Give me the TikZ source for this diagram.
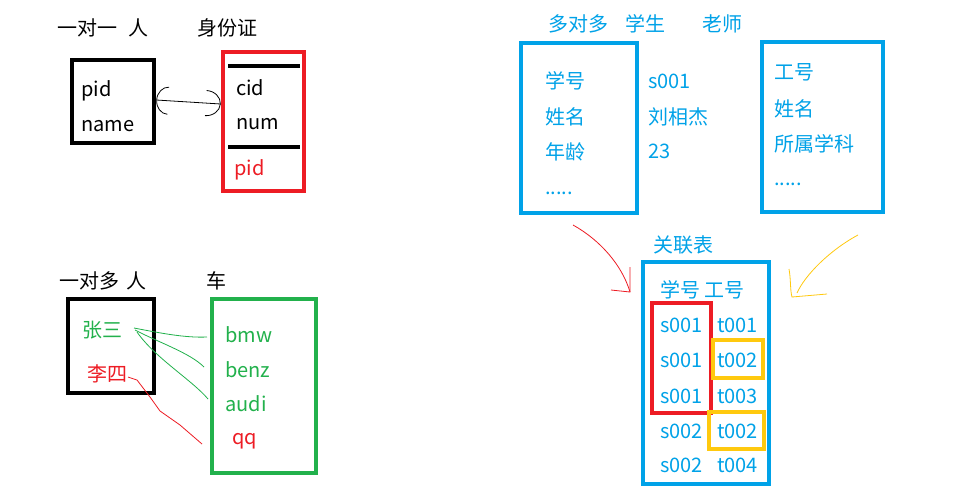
\documentclass[tikz,border=0pt]{standalone}
\usepackage{fontspec}
\setmainfont{Noto Sans CJK SC}
\usetikzlibrary{arrows.meta}
\definecolor{pred}{HTML}{ED1C24}
\definecolor{pgreen}{HTML}{22B14C}
\definecolor{pblue}{HTML}{00A2E8}
\definecolor{pyellow}{HTML}{FFC90E}
\begin{document}
\begin{tikzpicture}[x=1pt,y=-1pt,
  txt/.style={anchor=base west, inner sep=0pt, font=\fontsize{20}{24}\selectfont},
  box/.style={draw, line width=4.5pt, inner sep=0pt},
  hand/.style={line width=0.8pt}]
\fill[white] (0,0) rectangle (968,499);
\useasboundingbox (0,0) rectangle (968,499);

% ---------- one to one ----------
\node[txt] (t11a) at (57,35) {一对一};
\node[txt] (t11b) at (128,35) {人};
\node[txt] (t11c) at (197,35) {身份证};
\node[box, minimum width=82pt, minimum height=83pt] (person) at (113,101.5) {};
\node[box, draw=pred, minimum width=81pt, minimum height=139pt] (idcard) at (263.5,121.5) {};
\draw[line width=4pt] (228,66) -- (300,66);
\draw[line width=4pt] (228,147) -- (300,147);
\node[txt] (ppid) at (81,96) {pid};
\node[txt] (pname) at (81,131) {name};
\node[txt] (cid) at (236,95) {cid};
\node[txt] (num) at (236,129) {num};
\node[txt, text=pred] (cpid) at (234,175) {pid};
\draw[hand, {Arc Barb[length=12pt,width=28pt]}-{Arc Barb[length=15pt,width=26pt]}]
  ([yshift=1.5pt]person.east) -- ([yshift=17.5pt]idcard.west);

% ---------- one to many ----------
\node[txt] (t1na) at (59,288) {一对多};
\node[txt] (t1nb) at (126,288) {人};
\node[txt] (t1nc) at (206,288) {车};
\node[box, minimum width=86pt, minimum height=94pt] (owner) at (111,346) {};
\node[box, draw=pgreen, minimum width=104pt, minimum height=174pt] (cars) at (264,386) {};
\node[txt, text=pgreen] (zs) at (82,337) {张三};
\node[txt, text=pred] (ls) at (87,381) {李四};
\node[txt, text=pgreen] (bmw) at (225,342) {bmw};
\node[txt, text=pgreen] (benz) at (225,377) {benz};
\node[txt, text=pgreen] (audi) at (225,411) {audi};
\node[txt, text=pred] (qq) at (232,444) {qq};
\coordinate (zs1) at (134,328);
\coordinate (zs2) at (135,330);
\coordinate (zs3) at (137,332);
\coordinate (bmwL) at (207,337);
\coordinate (benzL) at (204,367);
\coordinate (audiL) at (208,399);
\coordinate (lsR) at (128,377);
\coordinate (qqL) at (202,444);
\draw[hand, pgreen] (zs1) .. controls (160,333) and (185,338) .. (bmwL);
\draw[hand, pgreen] (zs2) .. controls (160,343) and (190,353) .. (benzL);
\draw[hand, pgreen] (zs3) .. controls (155,358) and (192,380) .. (audiL);
\draw[hand, pred] (lsR) -- (137,380) -- (150,397) -- (160,411) -- (180,425) -- (qqL);

% ---------- many to many ----------
\node[txt, text=pblue] (tmma) at (548,31) {多对多};
\node[txt, text=pblue] (tmmb) at (625,31) {学生};
\node[txt, text=pblue] (tmmc) at (702,31) {老师};
\node[box, draw=pblue, minimum width=116pt, minimum height=170pt] (student) at (579,128) {};
\node[box, draw=pblue, minimum width=121pt, minimum height=170pt] (teacher) at (822.5,127) {};
\node[txt, text=pblue] (s1) at (545,88) {学号};
\node[txt, text=pblue] (s2) at (545,124) {姓名};
\node[txt, text=pblue] (s3) at (545,159) {年龄};
\node[txt, text=pblue] (s4) at (545,194) {.....};
\node[txt, text=pblue] (v1) at (648,88) {s001};
\node[txt, text=pblue] (v2) at (648,124) {刘相杰};
\node[txt, text=pblue] (v3) at (648,158) {23};
\node[txt, text=pblue] (te1) at (774,79) {工号};
\node[txt, text=pblue] (te2) at (774,116) {姓名};
\node[txt, text=pblue] (te3) at (774,151) {所属学科};
\node[txt, text=pblue] (te4) at (774,185) {.....};

\node[txt, text=pblue] (rel) at (653,252) {关联表};
\node[box, draw=pblue, minimum width=126pt, minimum height=222pt] (assoc) at (706,373) {};
\node[txt, text=pblue] (hdr) at (660,297) {学号 工号};
\node[txt, text=pblue] (r1s) at (660,332) {s001};
\node[txt, text=pblue] (r1t) at (717,332) {t001};
\node[txt, text=pblue] (r2s) at (660,367) {s001};
\node[txt, text=pblue] (r2t) at (717,367) {t002};
\node[txt, text=pblue] (r3s) at (660,403) {s001};
\node[txt, text=pblue] (r3t) at (717,403) {t003};
\node[txt, text=pblue] (r4s) at (660,438) {s002};
\node[txt, text=pblue] (r4t) at (717,438) {t002};
\node[txt, text=pblue] (r5s) at (660,472) {s002};
\node[txt, text=pblue] (r5t) at (717,472) {t004};
\node[box, draw=pred, minimum width=59pt, minimum height=110pt] (redcol) at (681.5,358) {};
\node[box, draw=pyellow, line width=4pt, minimum width=50pt, minimum height=38pt] (y1) at (738,359) {};
\node[box, draw=pyellow, line width=4pt, minimum width=55pt, minimum height=37pt] (y2) at (736.5,430.5) {};

% hand drawn arrows
\coordinate (ra0) at (573,225);
\coordinate (ra1) at (630,292);
\coordinate (rh1) at (630,267);
\coordinate (rh2) at (611,290);
\draw[hand, pred] (ra0) .. controls (600,240) and (622,265) .. (ra1);
\draw[hand, pred] (rh1) -- (ra1) -- (rh2);
\coordinate (ya0) at (858,235);
\coordinate (ya1) at (797,293);
\coordinate (yh1) at (789,269);
\coordinate (yh2) at (792,297);
\coordinate (yh3) at (827,294);
\draw[hand, pyellow] (ya0) .. controls (830,250) and (805,275) .. (ya1);
\draw[hand, pyellow] (yh1) .. controls (791,280) and (790,290) .. (yh2) -- (yh3);
\end{tikzpicture}
\end{document}
